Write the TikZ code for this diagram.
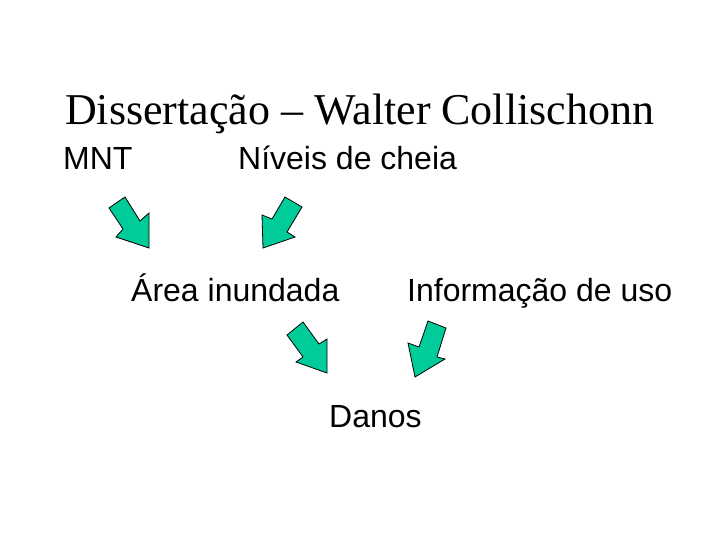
\documentclass[tikz,border=0pt]{standalone}
\usepackage{fontspec}
\setmainfont{Liberation Serif}
\newfontfamily\arialf{Liberation Sans}
\definecolor{arrowgreen}{HTML}{00CC99}
\begin{document}
\begin{tikzpicture}[x=1pt,y=-1pt,
  title/.style={anchor=base west,inner sep=0pt,font=\fontsize{44}{48}\selectfont},
  label/.style={anchor=base west,inner sep=0pt,font=\arialf\fontsize{32}{36}\selectfont},
  fatarrow/.style={fill=arrowgreen,draw=black,line width=0.8pt,line join=miter}]
\useasboundingbox (0,0) rectangle (720,540);
\fill[white] (0,0) rectangle (720,540);
\node[title] (t) at (65,125) {Dissertação – Walter Collischonn};
\node[label] (mnt) at (63,170) {MNT};
\node[label] (niv) at (238,170) {Níveis de cheia};
\node[label] (area) at (131,301) {Área inundada};
\node[label] (info) at (407,301) {Informação de uso};
\node[label] (danos) at (329,427) {Danos};
% arrows
\draw[fatarrow] (109,208) -- (125,197) -- (140,221) -- (149,213) -- (149,248) -- (116,237) -- (123,229) -- cycle;
\draw[fatarrow] (285,197) -- (302,207) -- (287,232) -- (295,237) -- (263,248) -- (262,215) -- (272,219) -- cycle;
\draw[fatarrow] (287,335) -- (303,322) -- (319,344) -- (327,339) -- (327,373) -- (296,362) -- (303,357) -- cycle;
\draw[fatarrow] (428,321) -- (446,328) -- (437,357) -- (445,359) -- (415,377) -- (408,343) -- (419,347) -- cycle;
\end{tikzpicture}
\end{document}
